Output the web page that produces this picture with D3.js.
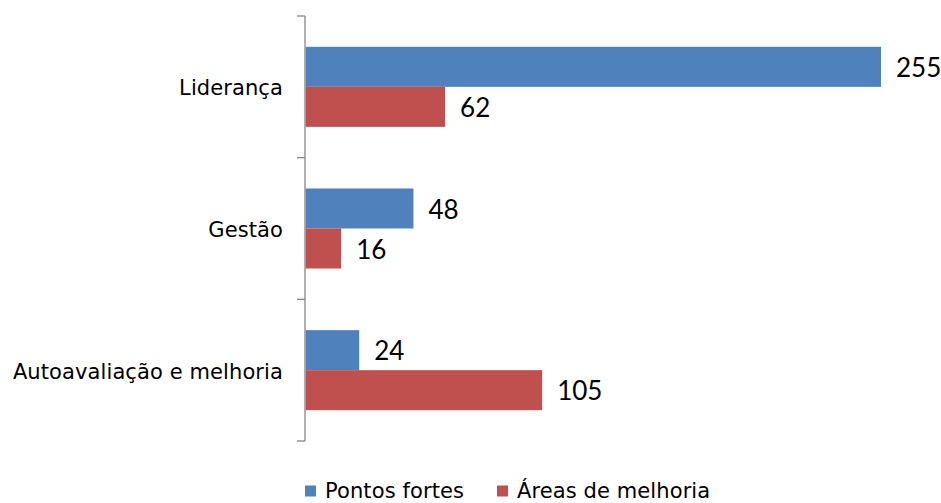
<!DOCTYPE html>
<html><head><meta charset="utf-8">
<script src="https://cdn.jsdelivr.net/npm/d3@7"></script>
<style>body{margin:0;background:#fff}</style>
</head><body>
<svg id="c" width="941" height="503"></svg>
<script>
const categories = ["Liderança", "Gestão", "Autoavaliação e melhoria"];
const seriesNames = ["Pontos fortes", "Áreas de melhoria"];
const pontosFortes = [255, 48, 24];
const areasMelhoria = [62, 16, 105];
const colors = ["#4F81BD", "#C0504D"];

const svg = d3.select("#c");
const x0 = 305, xMaxPx = 881, yTop = 16, yBot = 441;
const x = d3.scaleLinear().domain([0, 255]).range([x0, xMaxPx]);
const y = d3.scaleBand().domain(categories).range([yTop, yBot]).paddingInner(0.435).paddingOuter(0.2175);
const ySub = d3.scaleBand().domain(seriesNames).range([0, y.bandwidth()]);

const data = categories.map((c, i) => ({c, vals: [pontosFortes[i], areasMelhoria[i]]}));

const catFont = "'DejaVu Sans', sans-serif";
const numFont = "Lato, 'Open Sans', sans-serif";

// axis line with ticks
const outer = d3.scaleBand().domain(categories).range([yTop, yBot]);
const axis = svg.append("g");
axis.append("line").attr("x1", x0).attr("x2", x0).attr("y1", yTop).attr("y2", yBot).attr("stroke", "#868686").attr("stroke-width", 1.3);
const tickYs = [yTop, ...categories.map(c => outer(c) + outer.bandwidth())];
axis.selectAll("line.t").data(tickYs).enter().append("line")
  .attr("x1", x0 - 8).attr("x2", x0).attr("y1", d => d).attr("y2", d => d)
  .attr("stroke", "#868686").attr("stroke-width", 1.3);

const g = svg.selectAll("g.cat").data(data).enter().append("g")
  .attr("transform", d => `translate(0,${y(d.c)})`);
g.selectAll("rect").data(d => d.vals.map((v, j) => ({v, j}))).enter().append("rect")
  .attr("x", x(0) + 0.7)
  .attr("y", d => ySub(seriesNames[d.j]))
  .attr("width", d => x(d.v) - x(0) - 0.7)
  .attr("height", ySub.bandwidth())
  .attr("fill", d => colors[d.j]);
g.selectAll("text.v").data(d => d.vals.map((v, j) => ({v, j}))).enter().append("text")
  .attr("x", d => x(d.v) + 15)
  .attr("y", d => ySub(seriesNames[d.j]) + ySub.bandwidth() / 2 + 1)
  .attr("dy", "0.35em")
  .attr("font-family", numFont).attr("font-size", 26).attr("fill", "#000")
  .text(d => d.v);

svg.selectAll("text.cat").data(categories).enter().append("text")
  .attr("x", 283).attr("y", c => outer(c) + outer.bandwidth() / 2 + 1)
  .attr("dy", "0.35em").attr("text-anchor", "end")
  .attr("font-family", catFont).attr("font-size", 21).attr("letter-spacing", "0.1px").attr("fill", "#000")
  .text(c => c);

// legend
const legX = [305, 497];
const leg = svg.selectAll("g.leg").data(seriesNames).enter().append("g")
  .attr("transform", (d, i) => `translate(${legX[i]},0)`);
leg.append("rect").attr("x", 0).attr("y", 485.5).attr("width", 11).attr("height", 11).attr("fill", (d, i) => colors[i]);
leg.append("text").attr("x", 20).attr("y", 498)
  .attr("font-family", catFont).attr("font-size", 21).attr("letter-spacing", "0.1px").attr("fill", "#000").text(d => d);
</script>
</body></html>
